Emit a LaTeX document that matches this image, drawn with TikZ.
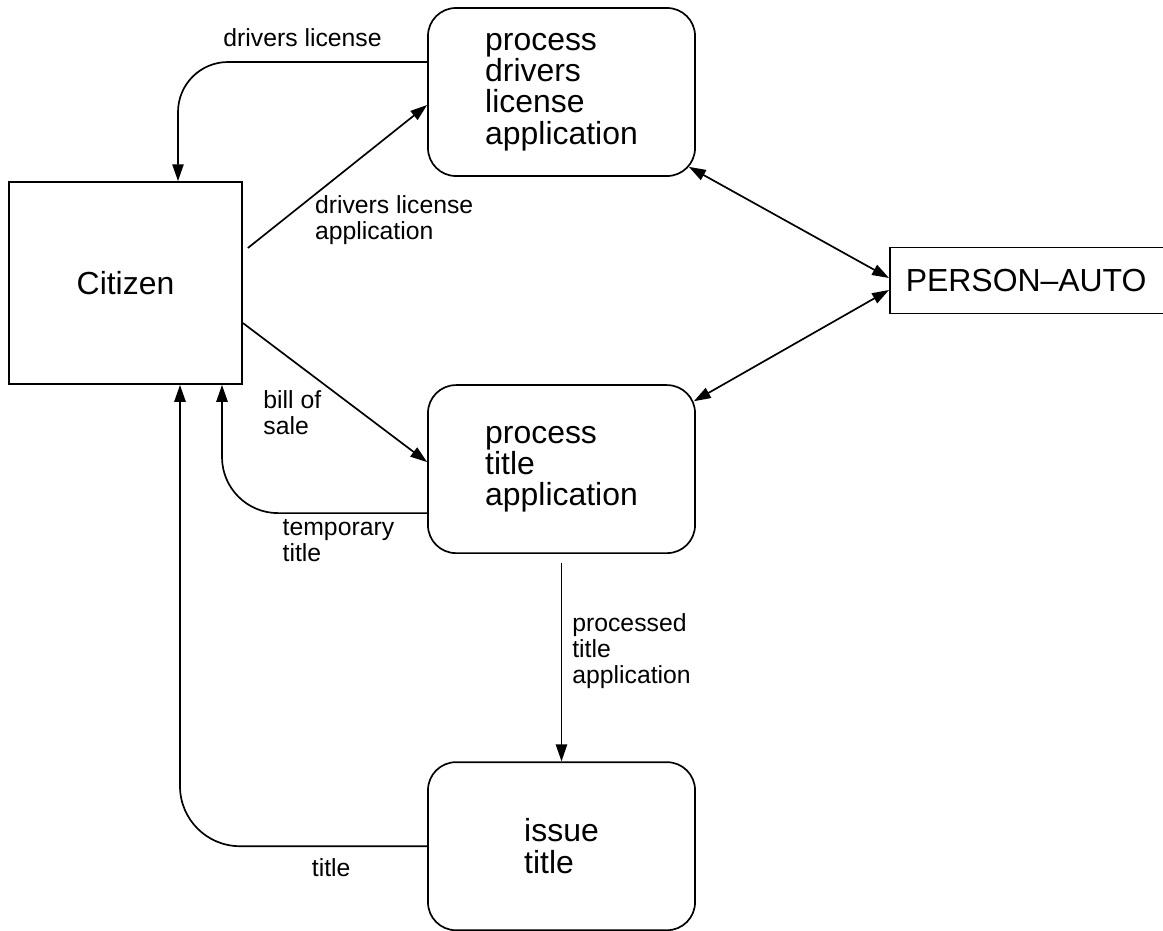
\documentclass[tikz,border=0pt]{standalone}
\usepackage{fontspec}
\setmainfont{Liberation Sans}
\usetikzlibrary{arrows.meta}

\begin{document}
\begin{tikzpicture}[x=0.025cm, y=-0.025cm, node distance=9.425cm,
    line width=1.2pt, >={Triangle[length=12pt,width=8pt]},
    font=\fontsize{22.7}{22.3}\selectfont,
    proc/.style={draw, rounded corners=0.7cm, minimum width=6.675cm,
      minimum height=4.2cm, align=left},
    lbl/.style={inner sep=0pt, align=left, font=\fontsize{17.6}{18.2}\selectfont}]
  \useasboundingbox (0,0) rectangle (1163,930);
  \node (citizen) [draw, minimum width=5.825cm, minimum height=5.05cm] at (125.5,283) {Citizen};
  \node (pdl) [proc] at (561.5,92) {process\\drivers\\license\\application};
  \node (pt) [proc, below of=pdl] {process\\title\\application};
  \node (it) [proc, below of=pt] {issue\\title};
  \node (pa) [draw, anchor=west, inner xsep=0.4cm, text width=6.4cm, align=left, minimum height=1.65cm] at (889,280.5) {PERSON--AUTO};
  \draw [->, rounded corners=1.25cm] ([shift={(0,-30)}]pdl.west) -| node [lbl, pos=0.25, above=0.35cm] {drivers license} ([shift={(52.5,0)}]citizen.north);
  \draw [->] ([shift={(5,-35)}]citizen.east) -- node [lbl, pos=0.37, anchor=north west] {drivers license\\application} ([shift={(0,13)}]pdl.west);
  \draw [->] ([shift={(0,40)}]citizen.east) -- node [lbl, pos=0.43, anchor=north east, yshift=-0.18cm] {bill of\\sale} ([shift={(0,-7)}]pt.west);
  \draw [->, rounded corners=1.4cm] ([shift={(0,44)}]pt.west) -| node [lbl, pos=0.354, anchor=north west, yshift=-0.15cm] {temporary\\title} ([shift={(96.5,0)}]citizen.south);
  \draw [->] ([shift={(0,9)}]pt.south) -- node [lbl, pos=0.444, right=0.25cm] {processed\\title\\application} (it.north);
  \draw [->, rounded corners=1.5cm] (it.west) -| node [lbl, pos=0.194, below=0.3cm] {title} ([shift={(54.5,0)}]citizen.south);
  \draw [<->] ([shift={(-7,-10)}]pdl.south east) -- ([shift={(0,-2.5)}]pa.west);
  \draw [<->] ([shift={(-2,17)}]pt.north east) -- ([shift={(0,9.5)}]pa.west);
\end{tikzpicture}
\end{document}
